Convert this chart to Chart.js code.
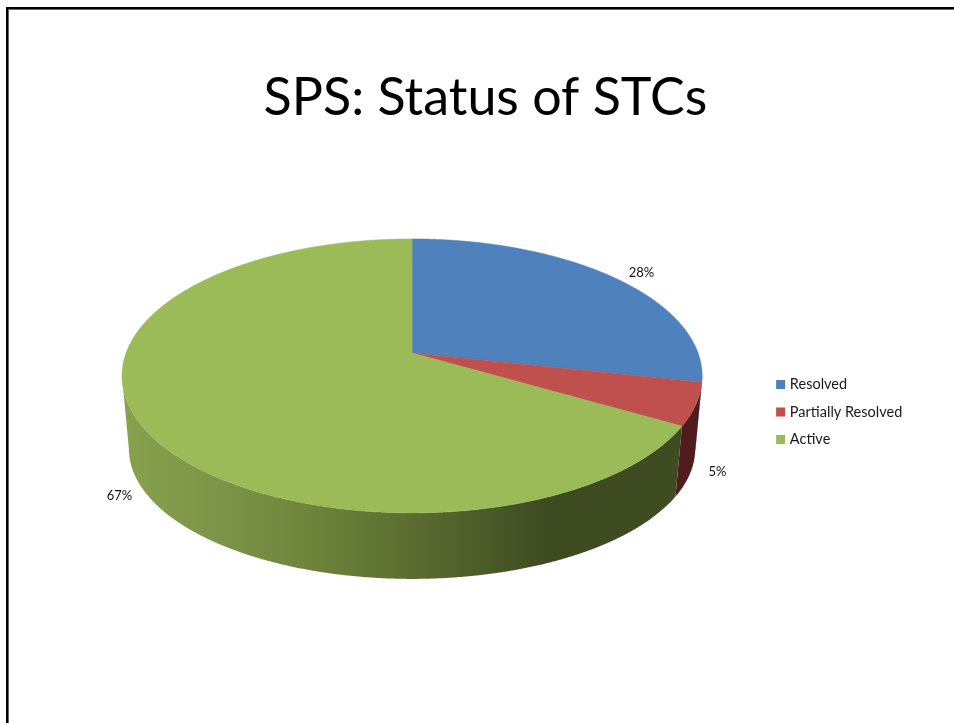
<!DOCTYPE html>
<html>
<head>
<meta charset="utf-8">
<title>SPS: Status of STCs</title>
<script src="https://cdn.jsdelivr.net/npm/chart.js@4"></script>
<style>
html,body{margin:0;padding:0;background:#fff;width:954px;height:723px;overflow:hidden}
#frame{position:absolute;left:6px;top:7px;width:1000px;height:800px;border:2px solid #000;box-shadow:inset 1px 1px 0 #666}
#c{position:absolute;left:0;top:0}
</style>
</head>
<body>
<div id="frame"></div>
<canvas id="c" width="972" height="723"></canvas>
<script>
const titleText = "SPS: Status of STCs";
const categories = ["Resolved", "Partially Resolved", "Active"];
const values = [28.4, 5, 66.6];
const valueLabels = ["28%", "5%", "67%"];
const topColors = ["#4f81bd", "#c0504d", "#9bbb59"];

const FONT = "Lato";

const tiltPlugin = {
  id: "tilt",
  beforeDatasetDraw(chart, args, o) {
    const ctx = chart.ctx;
    const arcs = args.meta.data;
    const R = arcs[0].outerRadius;
    const planePoint = (arc, plane, th) => {
      const u = Math.sin(th), v = -Math.cos(th), den = 1 + o.persp * v;
      return [
        arc.x + plane.rx * R * Math.sqrt(1 - o.persp * o.persp) * u / den,
        arc.y + plane.dy + plane.ry * (v + o.persp) / den
      ];
    };
    const trace = (arc, plane, a, b) => {
      const n = Math.max(2, Math.ceil(Math.abs(b - a) / 0.004));
      const pts = [];
      for (let i = 0; i <= n; i++) pts.push(planePoint(arc, plane, a + (b - a) * i / n));
      return pts;
    };
    const frontStart = Math.acos(o.persp);
    const frontEnd = 2 * Math.PI - frontStart;

    // side walls
    arcs.forEach((arc, i) => {
      const a = Math.max(arc.startAngle + Math.PI / 2, frontStart);
      const b = Math.min(arc.endAngle + Math.PI / 2, frontEnd);
      if (b <= a) return;
      const pts = trace(arc, o.top, a, b).concat(trace(arc, o.bottom, b, a));
      let fill = o.wallColors[i];
      if (Array.isArray(fill)) {
        const xs = pts.map(p => p[0]);
        const x0 = Math.min(...xs), x1 = Math.max(...xs);
        const g = ctx.createLinearGradient(x1, 0, x0, 0);
        fill.forEach(s => g.addColorStop(s[0], s[1]));
        fill = g;
      }
      ctx.beginPath();
      pts.forEach((p, k) => k ? ctx.lineTo(p[0], p[1]) : ctx.moveTo(p[0], p[1]));
      ctx.closePath();
      ctx.fillStyle = fill;
      ctx.fill();
    });

    // top faces
    arcs.forEach(arc => {
      const a = arc.startAngle + Math.PI / 2, b = arc.endAngle + Math.PI / 2;
      const pts = trace(arc, o.top, a, b);
      const apexY = arc.y + o.top.dy + o.top.ry * o.persp;
      ctx.beginPath();
      ctx.moveTo(arc.x, apexY);
      pts.forEach(p => ctx.lineTo(p[0], p[1]));
      ctx.closePath();
      ctx.fillStyle = arc.options.backgroundColor;
      ctx.strokeStyle = arc.options.backgroundColor;
      ctx.lineWidth = 0.5;
      ctx.fill();
      ctx.stroke();
    });

    // value labels
    ctx.save();
    ctx.fillStyle = "#111";
    ctx.font = o.labelFont;
    ctx.textAlign = "center";
    ctx.textBaseline = "middle";
    arcs.forEach((arc, i) => {
      const th = (arc.startAngle + arc.endAngle) / 2 + Math.PI / 2;
      const p = planePoint(arc, o.top, th);
      ctx.fillText(valueLabels[i], p[0] + o.labelShift[i][0], p[1] + o.labelShift[i][1]);
    });
    ctx.restore();
    return false;
  }
};

new Chart(document.getElementById("c"), {
  type: "pie",
  plugins: [tiltPlugin],
  data: {
    labels: categories,
    datasets: [{ data: values, backgroundColor: topColors, borderWidth: 0 }]
  },
  options: {
    responsive: false,
    animation: false,
    events: [],
    layout: { padding: { left: 58.5, bottom: 21, right: 59.75, top: 0 } },
    plugins: {
      tooltip: { enabled: false },
      title: {
        display: true,
        text: titleText,
        color: "#000",
        font: { family: FONT, size: 52, weight: "normal", lineHeight: 0.9 },
        padding: { top: 75, bottom: 0 }
      },
      legend: {
        position: "right",
        fullSize: false,
        labels: {
          font: { family: FONT, size: 14.5 },
          color: "#1a1a1a",
          boxWidth: 4,
          boxHeight: 4,
          padding: 13,
          generateLabels(chart) {
            const base = Chart.overrides.pie.plugins.legend.labels.generateLabels(chart);
            return base.map(item => Object.assign(item, { lineWidth: 5, strokeStyle: item.fillStyle, lineCap: "butt" }));
          }
        }
      },
      tilt: {
        persp: -0.168,
        top: { rx: 1, ry: 137, dy: -36 },
        bottom: { rx: 0.976, ry: 130, dy: 37 },
        wallColors: [
          "#2f4d72",
          "#501c1d",
          [[0, "#3f4c21"], [0.24, "#3e4b21"], [0.36, "#4b5c29"], [0.52, "#5f7232"], [0.68, "#6f863c"], [0.83, "#7c9548"], [1, "#87a24c"]]
        ],
        labelFont: "13px " + FONT,
        labelShift: [[28, -4], [21.5, 68], [-22, 70.5]]
      }
    }
  }
});
</script>
</body>
</html>
